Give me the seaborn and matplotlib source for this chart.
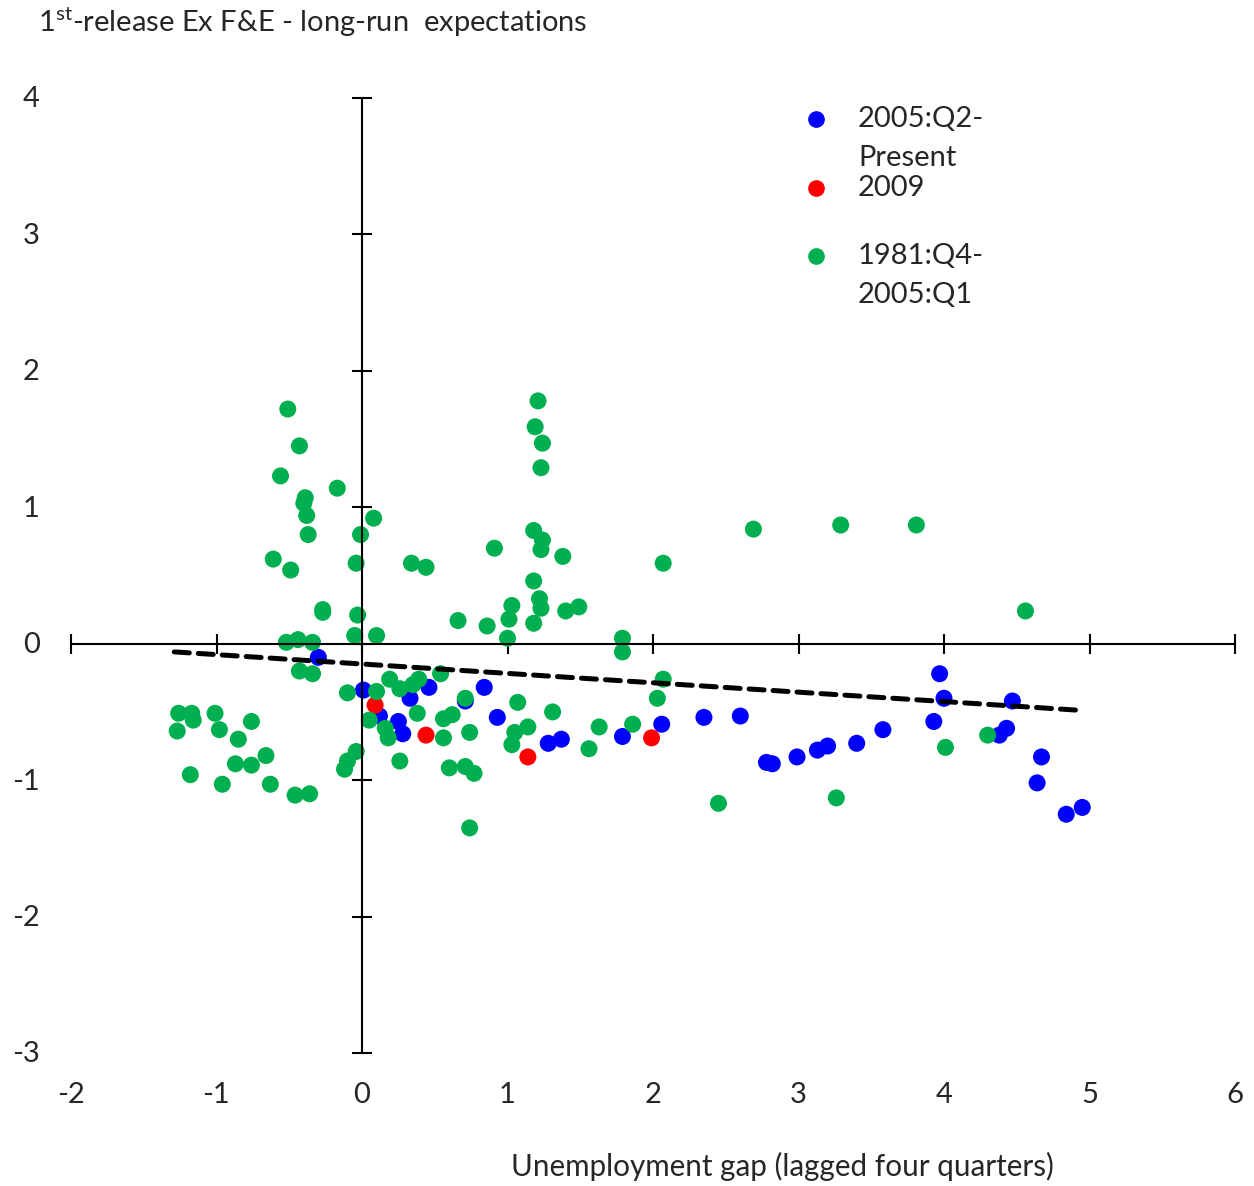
import numpy as np
import pandas as pd
import matplotlib
matplotlib.use('Agg')
import matplotlib.pyplot as plt
import matplotlib.transforms as mtransforms
from matplotlib.lines import Line2D
import seaborn as sns

# ── Data ─────────────────────────────────────────────────────────────────────
# 2005:Q2 - Present
recent_x = [-0.30, 0.01, 0.12, 0.46, 0.33, 0.25, 0.28, 0.71, 0.84, 0.93,
            1.28, 1.37, 1.79, 2.06, 2.35, 2.60, 2.78, 2.82, 2.99, 3.13,
            3.20, 3.40, 3.58, 3.97, 4.00, 3.93, 4.47, 4.43, 4.38, 4.67,
            4.64, 4.84, 4.95]
recent_y = [-0.10, -0.34, -0.53, -0.32, -0.40, -0.57, -0.66, -0.42, -0.32, -0.54,
            -0.73, -0.70, -0.68, -0.59, -0.54, -0.53, -0.87, -0.88, -0.83, -0.78,
            -0.75, -0.73, -0.63, -0.22, -0.40, -0.57, -0.42, -0.62, -0.67, -0.83,
            -1.02, -1.25, -1.20]

# 2009
y2009_x = [0.09, 0.44, 1.14, 1.99]
y2009_y = [-0.45, -0.67, -0.83, -0.69]

# 1981:Q4 - 2005:Q1
early_x = [-0.51, -0.43, -0.56, -0.17, -0.39, -0.40, -0.38, 0.08, -0.37, -0.01,
           -0.61, -0.49, -0.04, 0.34, 0.44, -0.27, -0.27, -0.03, -0.05, 0.10,
           -0.52, -0.44, -0.34, -0.43, -0.34, -0.10, 0.10, 0.05, 0.19, 0.26,
           0.35, 0.39, 0.38, 0.16, 0.18, 0.54, 0.56, 0.62, 0.56, 0.71,
           0.74, 1.07, 1.14, 1.05, 1.03, 0.26, -0.04, -0.10, -0.12, 0.60,
           0.71, 0.77, 0.74, 1.31, 1.56, 1.63, 1.86, 2.07, 2.03, 2.45,
           3.26, 4.30, 4.01,
           -1.26, -1.17, -1.16, -1.01, -1.27, -0.98, -0.85, -0.76, -0.66, -0.87,
           -0.76, -1.18, -0.96, -0.63, -0.46, -0.36,
           0.91, 1.18, 1.24, 1.23, 1.38, 2.07, 1.18, 1.22, 1.03, 1.23,
           1.40, 1.49, 0.66, 0.86, 1.01, 1.18, 1.00, 1.79, 1.79, 1.21,
           1.19, 1.24, 1.23, 2.69, 3.29, 3.81, 4.56]
early_y = [1.72, 1.45, 1.23, 1.14, 1.07, 1.03, 0.94, 0.92, 0.80, 0.80,
           0.62, 0.54, 0.59, 0.59, 0.56, 0.25, 0.23, 0.21, 0.06, 0.06,
           0.01, 0.03, 0.01, -0.20, -0.22, -0.36, -0.35, -0.56, -0.26, -0.33,
           -0.30, -0.26, -0.51, -0.62, -0.69, -0.22, -0.55, -0.52, -0.69, -0.40,
           -0.65, -0.43, -0.61, -0.65, -0.74, -0.86, -0.79, -0.86, -0.92, -0.91,
           -0.90, -0.95, -1.35, -0.50, -0.77, -0.61, -0.59, -0.26, -0.40, -1.17,
           -1.13, -0.67, -0.76,
           -0.51, -0.51, -0.56, -0.51, -0.64, -0.63, -0.70, -0.57, -0.82, -0.88,
           -0.89, -0.96, -1.03, -1.03, -1.11, -1.10,
           0.70, 0.83, 0.76, 0.69, 0.64, 0.59, 0.46, 0.33, 0.28, 0.26,
           0.24, 0.27, 0.17, 0.13, 0.18, 0.15, 0.04, 0.04, -0.06, 1.78,
           1.59, 1.47, 1.29, 0.84, 0.87, 0.87, 0.24]

# linear trend over all quarters (end points)
trend_x = [-1.29, 4.96]
trend_y = [-0.06, -0.49]

x_ticks = [-2, -1, 0, 1, 2, 3, 4, 5, 6]
y_ticks = [-3, -2, -1, 0, 1, 2, 3, 4]

periods = ['2005:Q2-Present', '2009', '1981:Q4-2005:Q1']
legend_lines = [['2005:Q2-', 'Present'], ['2009'], ['1981:Q4-', '2005:Q1']]
COLORS = {'2005:Q2-Present': '#0000FF', '2009': '#FF0000', '1981:Q4-2005:Q1': '#00B050'}

df = pd.concat([
    pd.DataFrame({'gap': recent_x, 'expect': recent_y, 'period': periods[0]}),
    pd.DataFrame({'gap': y2009_x, 'expect': y2009_y, 'period': periods[1]}),
    pd.DataFrame({'gap': early_x, 'expect': early_y, 'period': periods[2]}),
], ignore_index=True)

# ── Style ────────────────────────────────────────────────────────────────────
sns.set_style('white')
plt.rcParams['font.family'] = ['Lato', 'DejaVu Sans']
plt.rcParams['mathtext.fontset'] = 'custom'
plt.rcParams['mathtext.rm'] = 'Lato'
FS = 21

W, H = 1254, 1186
fig = plt.figure(figsize=(W / 100, H / 100), dpi=100)
ax = fig.add_axes([71 / W, 1 - 1053 / H, (1235 - 71) / W, (1053 - 98) / H])

sns.scatterplot(data=df, x='gap', y='expect', hue='period', hue_order=periods,
                palette=COLORS, s=150, linewidth=0, legend=False, ax=ax)
sns.lineplot(x=trend_x, y=trend_y, color='black', lw=3.6,
             linestyle=(0, (3.0, 1.8)), dash_capstyle='round', ax=ax)

ax.set_xlim(-2, 6); ax.set_ylim(-3, 4)
ax.set_xlabel(''); ax.set_ylabel('')
for s in ['top', 'right']:
    ax.spines[s].set_visible(False)
ax.spines['left'].set_position(('data', 0))
ax.spines['bottom'].set_position(('data', 0))
for s in ['left', 'bottom']:
    ax.spines[s].set_linewidth(1.5); ax.spines[s].set_color('black')
ax.set_xticks(x_ticks); ax.set_yticks(y_ticks)
ax.tick_params(bottom=True, left=True, direction='inout', length=14, width=1.5,
               color='black', labelbottom=False, labelleft=False)

# tick labels sit at the outer edge of the plot area (Excel "low" labels)
tx = mtransforms.blended_transform_factory(ax.transData, ax.transAxes)
ty = mtransforms.blended_transform_factory(ax.transAxes, ax.transData)
for v in x_ticks:
    ax.text(v, -0.044, str(v), transform=tx, ha='center', va='center', fontsize=FS)
for v in y_ticks:
    ax.text(-0.027, v - 0.01, str(v), transform=ty, ha='right', va='center', fontsize=FS)

fig.text(38 / W, 1 - 22 / H, r'1$^{\mathrm{st}}$-release Ex F&E - long-run  expectations',
         ha='left', va='center', fontsize=FS)
fig.text(782 / W, 1 - 1166 / H, 'Unemployment gap (lagged four quarters)',
         ha='center', va='center', fontsize=FS + 0.3)

# legend, drawn by hand to keep Excel's line layout
leg_rows = [[119, 158], [188], [256, 295]]
for p, lines, rows in zip(periods, legend_lines, leg_rows):
    fig.add_artist(Line2D([816 / W], [1 - rows[0] / H], marker='o', markersize=11,
                          color=COLORS[p], linestyle='none', transform=fig.transFigure))
    for txt, r in zip(lines, rows):
        fig.text(858 / W, 1 - r / H, txt, ha='left', va='center', fontsize=FS)

fig.savefig('out.png', dpi=100)
